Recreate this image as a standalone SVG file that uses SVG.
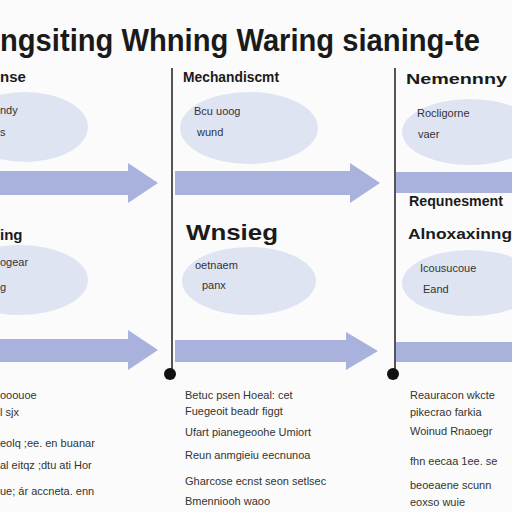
<svg xmlns="http://www.w3.org/2000/svg" width="512" height="512" viewBox="0 0 512 512">
<style>
.t{font-family:"Liberation Sans",Arial,sans-serif;fill:#1a1a1a}
.title{font-size:31px;font-weight:bold}
.h{font-size:15px;font-weight:bold}
.hb{font-size:22px;font-weight:bold}
.e{font-size:11px;fill:#333}
.b{font-size:11px;fill:#333}
.ell{fill:#dfe4f3}
.arr{fill:#a8b2dd}
.vl{stroke:#555;stroke-width:2}
</style>
<rect width="512" height="512" fill="#fbfbfb"/>
<text class="t title" x="0" y="51" textLength="480" lengthAdjust="spacingAndGlyphs">ngsiting Whning Waring sianing-te</text>
<g id="connectors">
<line class="vl" x1="172" y1="68" x2="172" y2="374"/>
<line class="vl" x1="395" y1="68" x2="395" y2="374"/>
<circle cx="170" cy="374" r="6" fill="#111"/>
<circle cx="393" cy="374" r="6" fill="#111"/>
<polygon class="arr" points="0,171 128,171 128,163 158,183 128,203 128,195 0,195"/>
<polygon class="arr" points="175,171 350,171 350,163 380,183 350,203 350,195 175,195"/>
<rect class="arr" x="396" y="172" width="116" height="21"/>
<polygon class="arr" points="0,339 128,339 128,330 158,350 128,370 128,362 0,362"/>
<polygon class="arr" points="175,340 346,340 346,332 378,351 346,370 346,362 175,362"/>
<rect class="arr" x="396" y="342" width="116" height="20"/>
</g>
<g id="n1">
<text class="t h" x="0" y="82">nse</text>
<ellipse class="ell" cx="25" cy="127" rx="63" ry="35"/>
<text class="t e" x="0" y="114">ndy</text>
<text class="t e" x="0" y="136">s</text>
</g>
<g id="n2">
<text class="t h" x="183" y="82" textLength="96" lengthAdjust="spacingAndGlyphs">Mechandiscmt</text>
<ellipse class="ell" cx="249" cy="128" rx="69" ry="36"/>
<text class="t e" x="194" y="115">Bcu uoog</text>
<text class="t e" x="197" y="136">wund</text>
</g>
<g id="n3">
<text class="t h" x="406" y="84" textLength="101" lengthAdjust="spacingAndGlyphs">Nemennny</text>
<ellipse class="ell" cx="470" cy="132" rx="68" ry="33"/>
<text class="t e" x="417" y="117">Rocligorne</text>
<text class="t e" x="418" y="138">vaer</text>
<text class="t h" x="409" y="206" textLength="94" lengthAdjust="spacingAndGlyphs">Requnesment</text>
</g>
<g id="n4">
<text class="t h" x="0" y="240">ing</text>
<ellipse class="ell" cx="20" cy="280" rx="68" ry="35"/>
<text class="t e" x="0" y="266">ogear</text>
<text class="t e" x="0" y="291">g</text>
</g>
<g id="n5">
<text class="t hb" x="186" y="240" textLength="92" lengthAdjust="spacingAndGlyphs">Wnsieg</text>
<ellipse class="ell" cx="249" cy="281" rx="67" ry="34"/>
<text class="t e" x="195" y="269">oetnaem</text>
<text class="t e" x="202" y="289">panx</text>
</g>
<g id="n6">
<text class="t h" x="408" y="239" textLength="104" lengthAdjust="spacingAndGlyphs">Alnoxaxinng</text>
<ellipse class="ell" cx="470" cy="283" rx="68" ry="33"/>
<text class="t e" x="420" y="272">Icousucoue</text>
<text class="t e" x="423" y="293">Eand</text>
</g>
<g id="text-left">
<text class="t b" x="0" y="399">ooouoe</text>
<text class="t b" x="0" y="416">l sjx</text>
<text class="t b" x="0" y="447">eolq ;ee. en buanar</text>
<text class="t b" x="0" y="469">al eitqz ;dtu ati Hor</text>
<text class="t b" x="0" y="495">ue; ár accneta. enn</text>
</g>
<g id="text-mid">
<text class="t b" x="185" y="399">Betuc psen Hoeal: cet</text>
<text class="t b" x="185" y="415">Fuegeoit beadr figgt</text>
<text class="t b" x="185" y="436">Ufart pianegeoohe Umiort</text>
<text class="t b" x="185" y="459">Reun anmgieiu eecnunoa</text>
<text class="t b" x="185" y="485">Gharcose  ecnst seon setlsec</text>
<text class="t b" x="185" y="505">Bmenniooh waoo</text>
</g>
<g id="text-right">
<text class="t b" x="410" y="399">Reauracon wkcte</text>
<text class="t b" x="410" y="416">pikecrao farkia</text>
<text class="t b" x="410" y="435">Woinud  Rnaoegr</text>
<text class="t b" x="410" y="465">fhn eecaa 1ee. se</text>
<text class="t b" x="410" y="489">beoeaene scunn</text>
<text class="t b" x="410" y="506">eoxso wuie</text>
</g>
</svg>
